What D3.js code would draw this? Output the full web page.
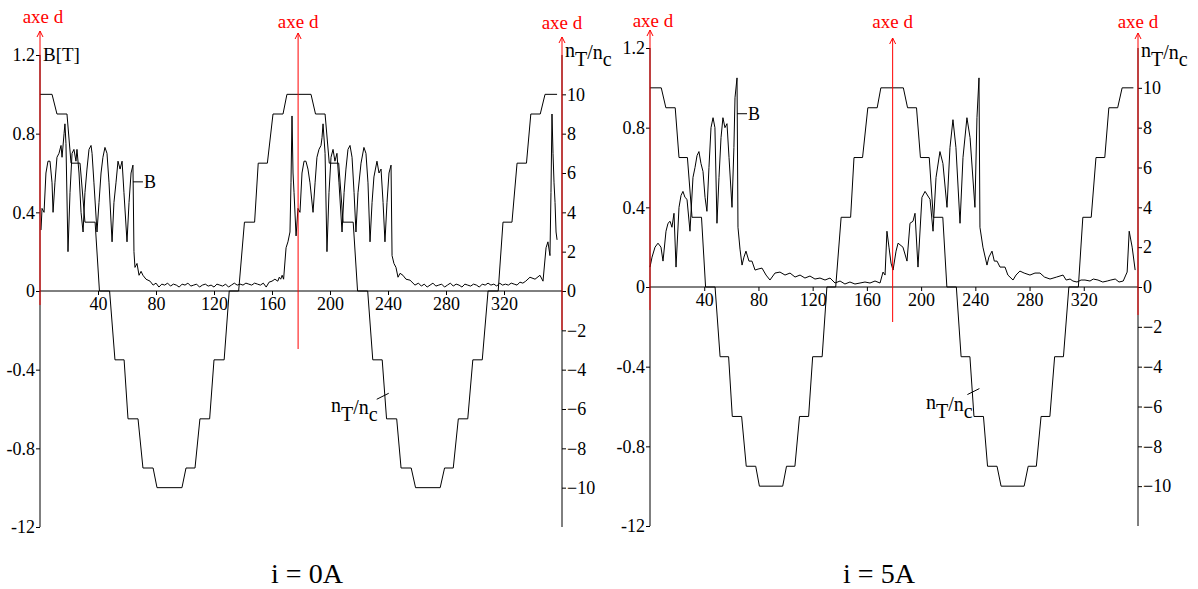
<!DOCTYPE html>
<html><head><meta charset="utf-8">
<script src="https://cdn.jsdelivr.net/npm/d3@7"></script>
<style>
body{margin:0;background:#fff}
svg{display:block}
</style>
</head><body>
<svg id="c" width="1198" height="589"></svg>
<script>
// ---------- data ----------
const bTickValues = [1.2, 0.8, 0.4, 0, -0.4, -0.8, -1.2];
const bTickLabels = ["1.2", "0.8", "0.4", "0", "-0.4", "-0.8", "-12"];
const angleTicks = [40, 80, 120, 160, 200, 240, 280, 320];
const ratioTicks = [10, 8, 6, 4, 2, 0, -2, -4, -6, -8, -10];
const axeDAngles0 = [0, 178, 360];
const axeDAngles5 = [0, 179, 360];
const captions = ["i = 0A", "i = 5A"];

// n_T/n_c stepped waveform [angle deg, value]
const ratioSteps = [
 [0,10],[8.3,10],[11.7,9],[18.6,9],[21.4,6.5],[27.6,6.5],[31,3.5],[38,3.5],[41,0],[48,0],
 [51.7,-3.5],[58,-3.5],[60.7,-6.5],[67.6,-6.5],[71,-9],[78,-9],[80.7,-10],[97.9,-10],
 [100.7,-9],[106.9,-9],[110.3,-6.5],[117,-6.5],[120,-3.5],[127,-3.5],[130.5,0],[137,0],
 [141,3.5],[148,3.5],[150.5,6.5],[156.8,6.5],[160.7,9],[167.6,9],[170.3,10],[186.9,10],
 [190,9],[196.6,9],[199.5,6.5],[206,6.5],[209,3.5],[216,3.5],[219,0],[226,0],
 [229.5,-3.5],[236,-3.5],[239,-6.5],[246,-6.5],[249,-9],[256,-9],[259,-10],[276,-10],
 [279,-9],[285,-9],[288.5,-6.5],[295,-6.5],[298.5,-3.5],[305,-3.5],[309,0],[316,0],
 [319.3,3.5],[325.5,3.5],[329,6.5],[335.5,6.5],[338.5,9],[345,9],[348.3,10],[356.6,10]
];

// B [T] for i = 0A  [angle deg, B]
const bCurve0 = [
 [0.7,0.31],[1.4,0.42],[2.8,0.40],[4.1,0.60],[5.5,0.66],[6.9,0.66],[8.3,0.55],[9.0,0.40],
 [10.3,0.55],[11.7,0.68],[13.1,0.70],[14.5,0.74],[15.2,0.68],[16.6,0.80],[17.2,0.85],[17.9,0.75],
 [19.3,0.20],[20.7,0.50],[22.1,0.70],[23.4,0.72],[24.8,0.66],[25.5,0.72],[26.9,0.60],[28.3,0.40],
 [29.7,0.30],[31.0,0.50],[32.4,0.62],[33.8,0.72],[35.2,0.74],[35.9,0.70],[37.2,0.55],[39.3,0.30],
 [40.7,0.45],[42.1,0.60],[43.4,0.68],[44.8,0.73],[46.2,0.70],[47.6,0.55],[49.7,0.25],[51.0,0.45],
 [52.4,0.55],[53.8,0.66],[55.2,0.62],[56.6,0.66],[57.9,0.50],[60.0,0.25],[61.4,0.45],[62.8,0.60],
 [64.1,0.64],[64.8,0.20],[65.5,0.12],[66.9,0.14],[68.3,0.08],[69.7,0.10],[71.0,0.08],[73.1,0.06],
 [75.9,0.05],[78,0.03],[80,0.04],[82,0.02],[84,0.035],[86,0.03],[88,0.04],[90,0.025],[92,0.035],
 [94,0.03],[96,0.02],[98,0.035],[100,0.03],[102,0.04],[104,0.025],[106,0.03],[108,0.035],[110,0.02],
 [112,0.03],[114,0.035],[116,0.025],[118,0.03],[120,0.02],[122,0.035],[124,0.03],[126,0.025],
 [128,0.035],[130,0.02],[132,0.03],[134,0.04],[136,0.03],[138,0.035],[140,0.03],[142,0.04],
 [144,0.035],[146,0.03],[148,0.04],[150,0.035],[152,0.03],[154,0.04],[156,0.02],[158,0.045],
 [160,0.05],[162,0.06],[164,0.05],[165,0.07],[166,0.06],[167,0.08],[168,0.06],[169.7,0.22],
 [171.0,0.25],[172.4,0.30],[173.1,0.55],[173.8,0.89],[174.5,0.60],[175.2,0.50],[176.6,0.28],
 [177.9,0.42],[179.3,0.40],[180.7,0.60],[182.1,0.66],[183.4,0.66],[184.8,0.62],[186.2,0.55],
 [188.3,0.40],[189.7,0.55],[191.0,0.68],[192.4,0.72],[193.8,0.74],[194.5,0.78],[195.2,0.85],
 [196.6,0.70],[197.9,0.20],[199.3,0.50],[200.7,0.68],[202.1,0.72],[203.4,0.66],[204.8,0.70],
 [206.2,0.55],[208.3,0.30],[209.7,0.50],[211.0,0.62],[212.4,0.72],[213.8,0.74],[215.2,0.68],
 [216.6,0.50],[217.9,0.30],[219.3,0.50],[221.4,0.65],[223.4,0.73],[224.8,0.70],[226.2,0.55],
 [227.6,0.25],[229.0,0.45],[230.3,0.58],[232.4,0.66],[233.8,0.60],[235.2,0.62],[236.6,0.45],
 [237.9,0.25],[239.3,0.45],[240.7,0.60],[242.1,0.64],[242.8,0.18],[244.1,0.14],[245.5,0.12],
 [246.9,0.07],[248.3,0.09],[250.3,0.08],[252.4,0.06],[255.2,0.055],[258.6,0.03],[261,0.04],
 [263,0.025],[265,0.035],[267,0.02],[269,0.03],[271,0.04],[273,0.025],[275,0.03],[277,0.035],
 [279,0.02],[281,0.03],[283,0.04],[285,0.025],[287,0.035],[289,0.03],[291,0.02],[293,0.035],
 [295,0.03],[297,0.025],[299,0.035],[301,0.03],[303,0.02],[305,0.035],[307,0.03],[309,0.04],
 [311,0.03],[313,0.035],[315,0.025],[317,0.04],[319,0.03],[321,0.035],[323,0.03],[325,0.04],
 [327,0.035],[329,0.03],[331,0.045],[333,0.04],[335,0.05],[337.9,0.07],[341.4,0.06],[344.8,0.08],
 [346.9,0.05],[349.0,0.22],[350.3,0.25],[351.7,0.18],[352.4,0.50],[353.1,0.90],[353.8,0.70],
 [354.5,0.55],[355.2,0.45],[355.9,0.30],[356.6,0.26]
];

// B [T] for i = 5A  [angle deg, B]
const bCurve5 = [
 [0,0.10],[1.5,0.15],[3.7,0.20],[5.9,0.22],[8.1,0.20],[9.6,0.13],[11.8,0.28],[13.3,0.32],
 [14.8,0.33],[16.2,0.30],[17.7,0.37],[19.2,0.10],[21.4,0.40],[22.9,0.46],[24.3,0.48],[25.8,0.45],
 [27.3,0.44],[29.5,0.28],[31.7,0.55],[33.2,0.60],[34.7,0.66],[36.1,0.68],[37.6,0.62],[39.1,0.58],
 [40.6,0.45],[42.0,0.38],[43.5,0.60],[45.0,0.80],[46.5,0.85],[47.9,0.80],[49.4,0.32],[50.9,0.55],
 [52.4,0.75],[53.8,0.85],[55.3,0.80],[56.8,0.82],[58.3,0.65],[60.5,0.40],[61.9,0.70],[62.7,0.95],
 [64.2,1.05],[64.9,0.30],[66.4,0.19],[67.9,0.11],[69.3,0.15],[70.8,0.18],[73.0,0.13],[75.2,0.13],
 [77.5,0.085],[79.7,0.09],[82.6,0.095],[85.6,0.06],[88.5,0.035],[92.2,0.07],[95.9,0.075],
 [99.6,0.06],[103.3,0.07],[107.0,0.05],[110.7,0.06],[114.3,0.045],[118.0,0.055],[121.7,0.04],
 [125.4,0.045],[129.1,0.035],[132.8,0.045],[136.5,0.02],[140.2,0.03],[143.8,0.015],[147.5,0.025],
 [151.2,0.015],[154.9,0.02],[158.6,0.025],[162.3,0.02],[166.0,0.03],[169.7,0.02],[171.9,0.075],
 [173.4,0.06],[174.8,0.28],[176.3,0.20],[177.8,0.12],[179.3,0.085],[181.5,0.18],[183.0,0.22],
 [186.6,0.20],[189.6,0.13],[191.8,0.32],[194.0,0.33],[195.5,0.37],[197.7,0.10],[200.6,0.45],
 [202.9,0.48],[206.6,0.44],[208.8,0.28],[211.0,0.55],[213.9,0.68],[216.1,0.62],[219.1,0.40],
 [221.3,0.70],[223.5,0.84],[225.7,0.70],[228.7,0.32],[230.9,0.65],[233.8,0.85],[236.1,0.75],
 [239.7,0.40],[241.2,0.85],[242.7,1.05],[243.4,0.30],[245.6,0.20],[248.6,0.11],[250,0.15],
 [252.3,0.18],[254,0.13],[256,0.13],[258.2,0.10],[261.9,0.10],[264,0.06],[267.8,0.035],[270,0.06],
 [272.9,0.08],[276,0.07],[280.3,0.06],[284,0.07],[287.7,0.07],[291,0.05],[295.1,0.04],[300,0.05],
 [304.7,0.06],[307,0.035],[309.9,0.04],[312,0.03],[315,0.025],[318,0.035],[320.9,0.035],
 [324.6,0.03],[327,0.04],[330.5,0.035],[334,0.025],[337.3,0.03],[340,0.035],[343.2,0.04],
 [346,0.025],[349.1,0.03],[351,0.06],[352,0.075],[353.5,0.28],[355.7,0.20],[357.9,0.085]
];

// ---------- font ----------
const SERIF = '"Liberation Serif","Times New Roman","DejaVu Serif",serif';

// ---------- layout ----------
const panels = [
 {xr:[40,562], yr:[527,55], b:bCurve0, steps:ratioSteps, caption:captions[0], capX:307, axeD:axeDAngles0,
  showBT:true, redTop:[31,33,37], redBot:[305,349,330], labBase:[23,28,29],
  bLabel:[64.1,0.555], ratioLabel:{at:[240.5,-5.2], tx:331, ty:412}, topRatioX:565},
 {xr:[650,1138], yr:[526,48], b:bCurve5, steps:ratioSteps, caption:captions[1], capX:879, axeD:axeDAngles5,
  showBT:false, redTop:[30,38,33], redBot:[310,322,315], labBase:[27,28,28],
  bLabel:[64.2,0.87], ratioLabel:{at:[243,-5.1], tx:926, ty:409}, topRatioX:1141}
];

const svg = d3.select("#c");
svg.append("rect").attr("width",1198).attr("height",589).attr("fill","#fff");

function ratioText(g, x, y, size){
  const t = g.append("text").attr("x",x).attr("y",y).attr("font-size",size).attr("fill","#000")
    .style("font-family",SERIF);
  t.append("tspan").text("n");
  t.append("tspan").attr("dy",9).text("T");
  t.append("tspan").attr("dy",-7).text("/n");
  t.append("tspan").attr("dy",7).text("c");
  return t;
}

function styleAxis(a){
  a.select(".domain").remove();
  a.attr("font-family",null).attr("font-size",null);
  a.selectAll("line").attr("stroke","#000");
  a.selectAll("text").attr("font-size",18).style("font-family",SERIF).attr("fill","#000");
}

panels.forEach(p=>{
  const g = svg.append("g");
  const x = d3.scaleLinear().domain([0,360]).range(p.xr);
  const y = d3.scaleLinear().domain([-1.2,1.2]).range(p.yr);
  const yr = d3.scaleLinear().domain([-12,12]).range(p.yr);

  const la = g.append("g").attr("transform",`translate(${x(0)},0)`)
    .call(d3.axisLeft(y).tickValues(bTickValues).tickFormat((d,i)=>bTickLabels[i]).tickSize(4).tickPadding(1));
  styleAxis(la);
  g.append("line").attr("x1",x(0)).attr("x2",x(0)).attr("y1",y(1.2)).attr("y2",y(-1.2)).attr("stroke","#000");

  const ra = g.append("g").attr("transform",`translate(${x(360)},0)`)
    .call(d3.axisRight(yr).tickValues(ratioTicks).tickSize(4).tickPadding(1));
  styleAxis(ra);
  g.append("line").attr("x1",x(360)).attr("x2",x(360)).attr("y1",yr(12)).attr("y2",yr(-12)).attr("stroke","#000");

  const xa = g.append("g").attr("transform",`translate(0,${y(0)})`)
    .call(d3.axisBottom(x).tickValues(angleTicks).tickSize(4).tickPadding(2));
  styleAxis(xa);
  g.append("line").attr("x1",x(0)).attr("x2",x(360)).attr("y1",y(0)).attr("y2",y(0)).attr("stroke","#000");

  g.append("path").datum(p.steps)
    .attr("d", d3.line().x(d=>x(d[0])).y(d=>yr(d[1])))
    .attr("fill","none").attr("stroke","#000").attr("stroke-width",1);

  g.append("path").datum(p.b)
    .attr("d", d3.line().x(d=>x(d[0])).y(d=>y(d[1])))
    .attr("fill","none").attr("stroke","#000").attr("stroke-width",1);

  p.axeD.forEach((a,i)=>{
    const xx = x(a), top = p.redTop[i];
    g.append("line").attr("x1",xx).attr("x2",xx).attr("y1",top).attr("y2",p.redBot[i])
      .attr("stroke","#ff0000").attr("stroke-width",1);
    g.append("path").attr("d",`M${xx-3},${top+6}L${xx},${top}L${xx+3},${top+6}`)
      .attr("fill","none").attr("stroke","#ff0000").attr("stroke-width",1);
    g.append("text").attr("x",xx+(i===0?3:0)).attr("y",p.labBase[i]).attr("text-anchor","middle")
      .attr("font-size",19).style("font-family",SERIF).attr("fill","#ff0000").text("axe d");
  });

  if(p.showBT){
    g.append("text").attr("x",x(0)+3).attr("y",y(1.2)+6).attr("font-size",19)
      .style("font-family",SERIF).attr("fill","#000").text("B[T]");
  }
  ratioText(g, p.topRatioX, 57, 20);

  const bx = x(p.bLabel[0]), by = y(p.bLabel[1]);
  g.append("line").attr("x1",bx).attr("x2",bx+10).attr("y1",by).attr("y2",by).attr("stroke","#000");
  g.append("text").attr("x",bx+11).attr("y",by+6).attr("font-size",18)
    .style("font-family",SERIF).attr("fill","#000").text("B");

  const rx = x(p.ratioLabel.at[0]), ry = yr(p.ratioLabel.at[1]);
  g.append("line").attr("x1",rx).attr("y1",ry).attr("x2",rx-12).attr("y2",ry+6).attr("stroke","#000");
  ratioText(g, p.ratioLabel.tx, p.ratioLabel.ty, 20);

  g.append("text").attr("x",p.capX).attr("y",583).attr("text-anchor","middle")
    .attr("font-size",28).style("font-family",SERIF).attr("fill","#000").text(p.caption);
});
</script>
</body></html>
